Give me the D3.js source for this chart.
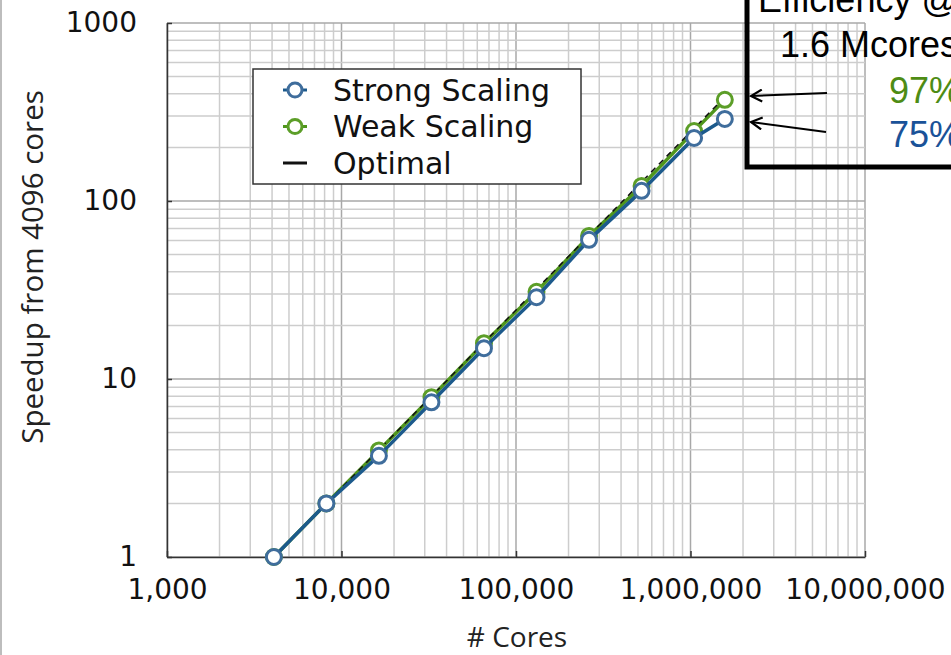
<!DOCTYPE html>
<html>
<head>
<meta charset="utf-8">
<script src="https://cdn.jsdelivr.net/npm/d3@7"></script>
<style>
  body { margin: 0; background: #fff; }
  svg { display: block; }
</style>
</head>
<body>
<div id="chart"></div>
<script>
// data
const cores = [4096, 8192, 16384, 32768, 65536, 131072, 262144, 524288, 1048576, 1572864];
const strongSpeedup = [1, 2, 3.7, 7.4, 14.9, 28.8, 60.5, 114, 226, 289];
const weakSpeedup = [1, 2, 3.97, 7.9, 15.9, 30.9, 63.6, 121.5, 247, 370];
const optimalSpeedup = [1, 2, 4, 8, 16, 32, 64, 128, 256, 384];
const xTicks = [1000, 10000, 100000, 1000000, 10000000];
const yTicks = [1, 10, 100, 1000];
const legendItems = ["Strong Scaling", "Weak Scaling", "Optimal"];
const effLines = ["Efficiency @", "1.6 Mcores"];
const effValues = ["97%", "75%"];

const width = 951, height = 655;
const blue = "#1c5a8c", blueMark = "#3f6d9c";
const green = "#4f961c", greenMark = "#5c9e28";

const svg = d3.select("#chart").append("svg")
    .attr("width", width)
    .attr("height", height);

svg.append("rect").attr("width", width).attr("height", height).attr("fill", "#fff");
// thin grey edge on the left
svg.append("rect").attr("x", 0).attr("y", 0).attr("width", 2).attr("height", height).attr("fill", "#bdbdbd");

const x = d3.scaleLog().domain([1000, 10000000]).range([167, 865]);
const y = d3.scaleLog().domain([1, 1000]).range([557, 23]);

// grid
const grid = svg.append("g").attr("class", "grid");
grid.selectAll("line.gx")
    .data(x.ticks())
    .enter().append("line")
    .attr("x1", d => x(d)).attr("x2", d => x(d))
    .attr("y1", y(1000)).attr("y2", y(1))
    .attr("stroke", d => xTicks.includes(d) ? "#a8a8a8" : "#cdcdcd")
    .attr("stroke-width", 1.5);
grid.selectAll("line.gy")
    .data(y.ticks())
    .enter().append("line")
    .attr("y1", d => y(d)).attr("y2", d => y(d))
    .attr("x1", x(1000)).attr("x2", x(10000000))
    .attr("stroke", d => yTicks.includes(d) ? "#a8a8a8" : "#cdcdcd")
    .attr("stroke-width", 1.5);

// axes
const xAxis = svg.append("g")
    .attr("transform", `translate(0,${y(1)})`)
    .call(d3.axisBottom(x).tickValues(xTicks).tickFormat(d3.format(","))
        .tickSizeInner(-6).tickSizeOuter(0).tickPadding(22));
const yAxis = svg.append("g")
    .attr("transform", `translate(${x(1000)},0)`)
    .call(d3.axisLeft(y).tickValues(yTicks).tickFormat(d3.format("d"))
        .tickSizeInner(-5).tickSizeOuter(0).tickPadding(30));

[xAxis, yAxis].forEach(a => {
  a.select(".domain").attr("stroke", "#333").attr("stroke-width", 1.5);
  a.selectAll(".tick line").attr("stroke", "#333").attr("stroke-width", 1.5);
  a.selectAll(".tick text")
      .attr("fill", "#111")
      .style("font-family", "'DejaVu Sans', sans-serif")
      .style("font-size", "28px");
});

// axis titles
svg.append("text")
    .attr("transform", "translate(43,267) rotate(-90)")
    .attr("text-anchor", "middle")
    .style("font-family", "'Open Sans', sans-serif")
    .style("font-size", "29.5px")
    .attr("fill", "#222")
    .text("Speedup from 4096 cores");
svg.append("text")
    .attr("x", 517).attr("y", 647)
    .attr("text-anchor", "middle")
    .style("font-family", "'Open Sans', sans-serif")
    .style("font-size", "28px")
    .attr("fill", "#222")
    .text("# Cores");

// series
const line = d3.line().x(d => x(d[0])).y(d => y(d[1]));

const weak = d3.zip(cores, weakSpeedup);
const strong = d3.zip(cores, strongSpeedup);
const optimal = d3.zip(cores, optimalSpeedup);

svg.append("path").datum(weak)
    .attr("d", line).attr("fill", "none")
    .attr("stroke", green).attr("stroke-width", 3.5);
svg.append("path").datum(optimal)
    .attr("d", line).attr("fill", "none")
    .attr("stroke", "#111").attr("stroke-width", 1.5)
    .attr("stroke-dasharray", "6,5");
svg.selectAll("circle.weak")
    .data(weak).enter().append("circle")
    .attr("class", "weak")
    .attr("cx", d => x(d[0])).attr("cy", d => y(d[1]))
    .attr("r", 7.5)
    .attr("fill", "#fff").attr("stroke", greenMark).attr("stroke-width", 3);

svg.append("path").datum(strong)
    .attr("d", line).attr("fill", "none")
    .attr("stroke", blue).attr("stroke-width", 3.5);
svg.selectAll("circle.strong")
    .data(strong).enter().append("circle")
    .attr("class", "strong")
    .attr("cx", d => x(d[0])).attr("cy", d => y(d[1]))
    .attr("r", 7.5)
    .attr("fill", "#fff").attr("stroke", blueMark).attr("stroke-width", 3);

// legend
const legend = svg.append("g").attr("transform", "translate(253,69)");
legend.append("rect")
    .attr("width", 328).attr("height", 115)
    .attr("fill", "#fff").attr("stroke", "#333").attr("stroke-width", 1.5);
const legendColors = [[blue, blueMark], [green, greenMark], ["#111", null]];
legendItems.forEach((name, i) => {
  const cy = 21 + i * 36.5;
  legend.append("line")
      .attr("x1", 30).attr("x2", 54).attr("y1", cy).attr("y2", cy)
      .attr("stroke", legendColors[i][0]).attr("stroke-width", 3);
  if (legendColors[i][1]) {
    legend.append("circle")
        .attr("cx", 42).attr("cy", cy).attr("r", 7)
        .attr("fill", "#fff").attr("stroke", legendColors[i][1]).attr("stroke-width", 3);
  }
  legend.append("text")
      .attr("x", 80).attr("y", cy).attr("dy", "0.36em")
      .style("font-family", "'DejaVu Sans', sans-serif")
      .style("font-size", "30px")
      .attr("fill", "#111")
      .text(name);
});

// efficiency box (top right, partly off the page)
const box = svg.append("g");
box.append("path")
    .attr("d", "M747,-10 V167 H960")
    .attr("fill", "none").attr("stroke", "#000").attr("stroke-width", 5);
effLines.forEach((t, i) => {
  box.append("text")
      .attr("x", i === 0 ? 758 : 780).attr("y", 12 + i * 45)
      .style("font-family", "'Liberation Sans', Arial, sans-serif")
      .style("font-size", "36px")
      .attr("fill", "#000")
      .text(t);
});
effValues.forEach((t, i) => {
  box.append("text")
      .attr("x", 889).attr("y", 103 + i * 44)
      .style("font-family", "'Liberation Sans', Arial, sans-serif")
      .style("font-size", "36px")
      .attr("fill", i === 0 ? "#4e8c14" : "#1a5298")
      .text(t);
});

svg.append("defs").append("marker")
    .attr("id", "arrow")
    .attr("viewBox", "0 0 14 14")
    .attr("refX", 12).attr("refY", 7)
    .attr("markerWidth", 14).attr("markerHeight", 14)
    .attr("markerUnits", "userSpaceOnUse")
    .attr("orient", "auto")
    .append("path")
    .attr("d", "M1,1 L12,7 L1,13")
    .attr("fill", "none").attr("stroke", "#000").attr("stroke-width", 2.2);

const arrows = [[827, 93, 751, 96], [826, 132, 751, 122]];
arrows.forEach(a => {
  box.append("line")
      .attr("x1", a[0]).attr("y1", a[1]).attr("x2", a[2]).attr("y2", a[3])
      .attr("stroke", "#000").attr("stroke-width", 2)
      .attr("marker-end", "url(#arrow)");
});
</script>
</body>
</html>
